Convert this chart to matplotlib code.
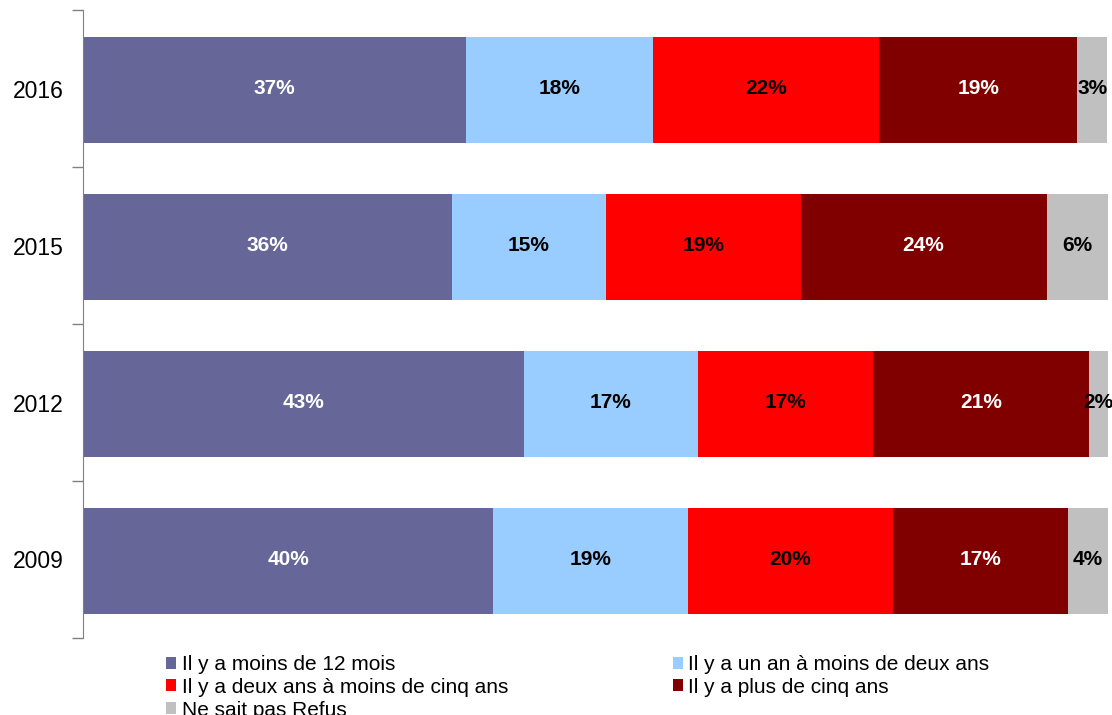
import matplotlib.pyplot as plt
import numpy as np

plt.rcParams["font.family"] = ["Liberation Sans", "DejaVu Sans"]

years = ["2016", "2015", "2012", "2009"]
series_names = [
    "Il y a moins de 12 mois",
    "Il y a un an à moins de deux ans",
    "Il y a deux ans à moins de cinq ans",
    "Il y a plus de cinq ans",
    "Ne sait pas Refus",
]
# values per series, in the order of years
moins_12_mois = [37.4, 36.0, 43.0, 40.0]
un_a_deux_ans = [18.2, 15.0, 17.0, 19.0]
deux_a_cinq_ans = [22.1, 19.0, 17.1, 20.0]
plus_cinq_ans = [19.3, 24.0, 21.0, 17.1]
nsp_refus = [2.9, 6.0, 2.0, 3.9]

colors = ["#666699", "#99CCFF", "#FF0000", "#800000", "#C0C0C0"]
text_colors = ["white", "black", "black", "white", "black"]


def main():
    data = [moins_12_mois, un_a_deux_ans, deux_a_cinq_ans, plus_cinq_ans, nsp_refus]

    fig = plt.figure(figsize=(11.12, 7.15), dpi=100)
    ax = fig.add_axes([83 / 1112, 1 - 638 / 715, 1025 / 1112, 628 / 715])

    y = np.arange(len(years))
    left = np.zeros(len(years))
    handles = []
    for vals, name, col, tcol in zip(data, series_names, colors, text_colors):
        vals = np.array(vals)
        bars = ax.barh(y + 0.01, vals, left=left, height=0.67, color=col, label=name)
        handles.append(bars)
        for yi, l, v in zip(y, left, vals):
            ax.text(l + v / 2, yi, f"{round(v):.0f}%", ha="center", va="center",
                    fontsize=15, fontweight="bold", color=tcol)
        left += vals

    ax.set_xlim(0, 100)
    ax.set_ylim(len(years) - 0.5, -0.5)
    ax.set_yticks(y)
    ax.set_yticklabels(years, fontsize=16.5)
    ax.tick_params(axis="y", which="major", length=0, pad=14)
    ax.set_yticks(np.arange(-0.5, len(years)), minor=True)
    ax.tick_params(axis="y", which="minor", length=8, color="#808080", width=1)
    ax.set_xticks([])
    for side in ["top", "right", "bottom"]:
        ax.spines[side].set_visible(False)
    ax.spines["left"].set_color("#808080")

    order = [0, 2, 4, 1, 3]
    fig.legend([handles[i] for i in order], [series_names[i] for i in order],
               ncol=2, loc="upper left", bbox_to_anchor=(166 / 1112, 1 - 655 / 715),
               frameon=False, fontsize=15, handlelength=0.5, handleheight=0.5,
               handletextpad=0.25, labelspacing=0.18, columnspacing=7.9,
               borderpad=0, borderaxespad=0)

    fig.savefig("out.png", dpi=100)


if __name__ == "__main__":
    main()
